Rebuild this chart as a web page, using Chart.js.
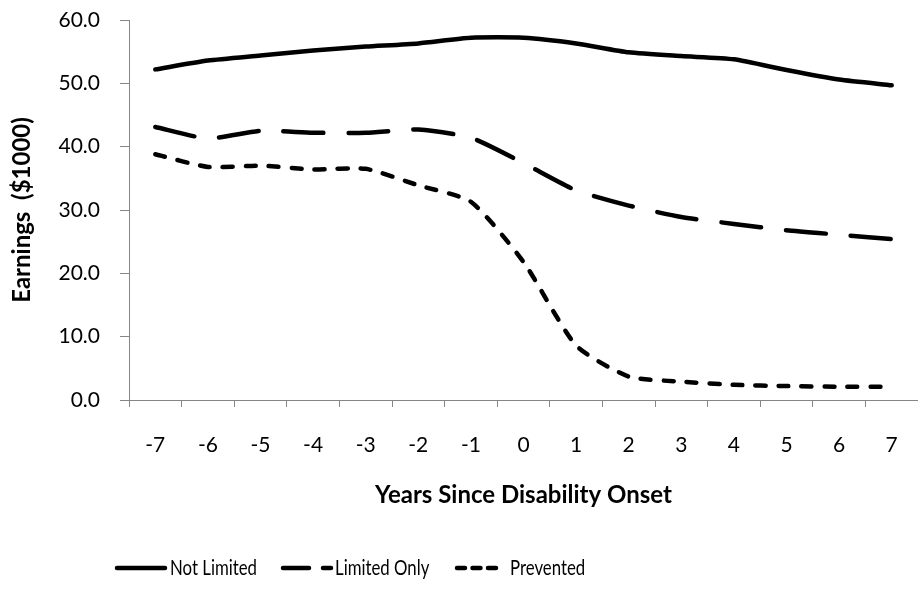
<!DOCTYPE html>
<html>
<head>
<meta charset="utf-8">
<script src="https://cdn.jsdelivr.net/npm/chart.js@4.4.1/dist/chart.umd.min.js"></script>
<style>
    html, body { margin: 0; padding: 0; background: #fff; }
    .chart-box { width: 918px; height: 590px; position: relative; }
</style>
</head>
<body>
<div class="chart-box"><canvas id="earningsChart"></canvas></div>
<script>
// Values
const years = ['-7', '-6', '-5', '-4', '-3', '-2', '-1', '0', '1', '2', '3', '4', '5', '6', '7'];
const notLimited = [52.2, 53.6, 54.4, 55.2, 55.8, 56.3, 57.2, 57.2, 56.3, 54.9, 54.3, 53.8, 52.1, 50.6, 49.7];
const limitedOnly = [43.1, 41.3, 42.5, 42.2, 42.2, 42.7, 41.4, 37.4, 33.1, 30.7, 28.9, 27.8, 26.8, 26.1, 25.4];
const prevented = [38.8, 36.8, 37.0, 36.4, 36.5, 33.9, 31.3, 21.8, 8.6, 3.7, 2.9, 2.4, 2.2, 2.1, 2.1];
const seriesNames = ['Not Limited', 'Limited Only', 'Prevented'];
const yTicks = [0, 10, 20, 30, 40, 50, 60];

const FONT = 'Lato, "Open Sans", sans-serif';
const AXIS_GREY = '#868686';

// Legend drawn by hand so it can sit left of centre like the original
const lineLegend = {
    id: 'lineLegend',
    afterDraw(chart, args, opts) {
        const ctx = chart.ctx;
        const y = opts.y;
        ctx.save();
        ctx.font = opts.font;
        ctx.textBaseline = 'middle';
        ctx.fillStyle = '#000';
        chart.data.datasets.forEach((ds, i) => {
            const x = opts.sampleX[i];
            ctx.beginPath();
            ctx.lineWidth = ds.borderWidth;
            ctx.lineCap = 'round';
            ctx.strokeStyle = ds.borderColor;
            ctx.setLineDash(ds.legendDash || []);
            ctx.moveTo(x, y);
            ctx.lineTo(x + opts.sampleWidth[i], y);
            ctx.stroke();
            ctx.setLineDash([]);
            // the original legend text is a bit condensed
            ctx.save();
            ctx.translate(opts.textX[i], y);
            ctx.scale(opts.squeeze, 1);
            ctx.fillText(ds.label, 0, 0);
            ctx.restore();
        });
        ctx.restore();
    }
};

function initEarningsChart() {
    const ctx = document.getElementById('earningsChart').getContext('2d');

    new Chart(ctx, {
        type: 'line',
        data: {
            labels: years,
            datasets: [{
                label: seriesNames[0],
                data: notLimited,
                borderColor: '#000',
                borderWidth: 4.5,
                borderCapStyle: 'round',
                borderJoinStyle: 'round',
                tension: 0.2,
                pointRadius: 0
            }, {
                label: seriesNames[1],
                data: limitedOnly,
                borderColor: '#000',
                borderWidth: 4.5,
                borderDash: [40, 25],
                legendDash: [26, 14],
                borderCapStyle: 'round',
                borderJoinStyle: 'round',
                tension: 0.2,
                pointRadius: 0
            }, {
                label: seriesNames[2],
                data: prevented,
                borderColor: '#000',
                borderWidth: 4.5,
                borderDash: [10, 13],
                legendDash: [8, 7.5],
                borderCapStyle: 'round',
                borderJoinStyle: 'round',
                tension: 0.2,
                pointRadius: 0
            }]
        },
        options: {
            responsive: true,
            maintainAspectRatio: false,
            animation: false,
            layout: {
                padding: { top: 20, right: 0, bottom: 70, left: 0 }
            },
            plugins: {
                legend: { display: false },
                tooltip: { enabled: false },
                lineLegend: {
                    y: 568,
                    sampleX: [117, 283, 457],
                    sampleWidth: [48, 48, 43],
                    textX: [170, 335, 510],
                    squeeze: 0.8,
                    font: '21px ' + FONT
                }
            },
            scales: {
                x: {
                    offset: true,
                    afterFit: (scale) => {
                        scale.height = 120;
                        scale.paddingLeft = 0;
                        scale.paddingRight = 0;
                    },
                    grid: {
                        offset: true,
                        drawOnChartArea: false,
                        color: AXIS_GREY,
                        tickLength: 7
                    },
                    border: { color: AXIS_GREY, width: 1 },
                    ticks: {
                        color: '#000',
                        padding: 26,
                        maxRotation: 0,
                        font: { family: FONT, size: 21 }
                    },
                    title: {
                        display: true,
                        text: 'Years Since Disability Onset',
                        color: '#000',
                        padding: { top: 0, bottom: 10 },
                        font: { family: FONT, size: 24, weight: 'bold' }
                    }
                },
                y: {
                    min: 0,
                    max: 60,
                    afterFit: (scale) => {
                        scale.width = 129;
                        scale.paddingTop = 0;
                        scale.paddingBottom = 0;
                    },
                    afterBuildTicks: (scale) => {
                        scale.ticks = yTicks.map((v) => ({ value: v }));
                    },
                    grid: {
                        drawOnChartArea: false,
                        color: AXIS_GREY,
                        tickLength: 9
                    },
                    border: { color: AXIS_GREY, width: 1 },
                    ticks: {
                        color: '#000',
                        padding: 20,
                        font: { family: FONT, size: 21 },
                        callback: (v) => Number(v).toFixed(1)
                    },
                    title: {
                        display: true,
                        text: 'Earnings  ($1000)',
                        color: '#000',
                        padding: { top: 8, bottom: 0 },
                        font: { family: FONT, size: 24, weight: 'bold' }
                    }
                }
            }
        },
        plugins: [lineLegend]
    });
}

document.addEventListener('DOMContentLoaded', initEarningsChart);
</script>
</body>
</html>
